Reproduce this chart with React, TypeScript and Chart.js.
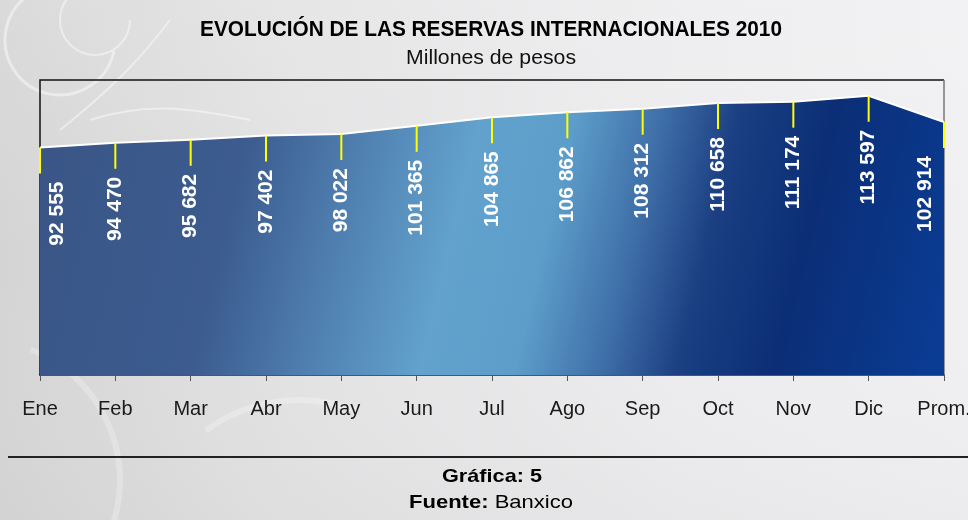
import { useEffect, useRef } from "react";
import { Chart, registerables } from "chart.js";

Chart.register(...registerables);

const categories = ["Ene", "Feb", "Mar", "Abr", "May", "Jun", "Jul", "Ago", "Sep", "Oct", "Nov", "Dic", "Prom."];
const reservas = [92555, 94470, 95682, 97402, 98022, 101365, 104865, 106862, 108312, 110658, 111174, 113597, 102914];
const valueLabels = ["92 555", "94 470", "95 682", "97 402", "98 022", "101 365", "104 865", "106 862", "108 312", "110 658", "111 174", "113 597", "102 914"];
const yMin = 0;
const yMax = 120000;
const titleText = "EVOLUCIÓN DE LAS RESERVAS INTERNACIONALES 2010";
const subtitleText = "Millones de pesos";
const footerGraphLabel = "Gráfica: 5";
const footerSourceLabel = "Fuente:";
const footerSourceValue = " Banxico";

const FONT = "'Liberation Sans', Arial, sans-serif";

function fitText(ctx: CanvasRenderingContext2D, text: string, cx: number, y: number, width: number) {
  const w = ctx.measureText(text).width;
  const s = width / w;
  ctx.save();
  ctx.translate(cx, y);
  ctx.scale(s, 1);
  ctx.textAlign = "center";
  ctx.fillText(text, 0, 0);
  ctx.restore();
}

const decorPlugin = {
  id: "decor",
  beforeDraw(chart: any) {
    const { ctx, width, height } = chart;
    ctx.save();
    const g = ctx.createLinearGradient(0, 0, width, 0);
    g.addColorStop(0, "#d4d4d4");
    g.addColorStop(0.3, "#e2e2e3");
    g.addColorStop(0.7, "#ececee");
    g.addColorStop(1, "#f0f0f2");
    ctx.fillStyle = g;
    ctx.fillRect(0, 0, width, height);
    const g2 = ctx.createLinearGradient(0, 0, 0, height);
    g2.addColorStop(0, "rgba(255,255,255,0.15)");
    g2.addColorStop(0.5, "rgba(255,255,255,0)");
    g2.addColorStop(1, "rgba(200,200,200,0.12)");
    ctx.fillStyle = g2;
    ctx.fillRect(0, 0, width, height);
    // decorative swirls
    ctx.strokeStyle = "rgba(255,255,255,0.45)";
    ctx.lineWidth = 3;
    ctx.beginPath();
    ctx.arc(60, 40, 55, 0.2, Math.PI * 1.3);
    ctx.stroke();
    ctx.lineWidth = 2;
    ctx.beginPath();
    ctx.arc(95, 20, 35, 0, Math.PI * 1.5);
    ctx.stroke();
    ctx.beginPath();
    ctx.moveTo(60, 130);
    ctx.bezierCurveTo(110, 90, 140, 60, 170, 20);
    ctx.stroke();
    ctx.beginPath();
    ctx.moveTo(90, 120);
    ctx.bezierCurveTo(150, 100, 200, 110, 250, 120);
    ctx.stroke();
    ctx.strokeStyle = "rgba(255,255,255,0.25)";
    ctx.lineWidth = 6;
    ctx.beginPath();
    ctx.arc(-20, 480, 140, -1.2, 0.3);
    ctx.stroke();
    ctx.beginPath();
    ctx.arc(300, 560, 160, -2.2, -1.2);
    ctx.stroke();
    ctx.restore();
  },
  beforeDatasetsDraw(chart: any) {
    const { ctx, chartArea: a } = chart;
    ctx.save();
    ctx.lineWidth = 1.5;
    ctx.strokeStyle = "#111";
    ctx.beginPath();
    ctx.moveTo(a.left, a.bottom);
    ctx.lineTo(a.left, a.top);
    ctx.lineTo(a.right, a.top);
    ctx.stroke();
    ctx.strokeStyle = "#777";
    ctx.beginPath();
    ctx.moveTo(a.right, a.top);
    ctx.lineTo(a.right, a.bottom);
    ctx.stroke();
    ctx.restore();
  },
  afterDatasetsDraw(chart: any) {
    const { ctx, chartArea: a } = chart;
    const meta = chart.getDatasetMeta(0);
    ctx.save();
    meta.data.forEach((pt: any, i: number) => {
      const x = pt.x;
      const y = pt.y;
      ctx.strokeStyle = "#ffff00";
      ctx.lineWidth = 2;
      ctx.beginPath();
      ctx.moveTo(x, y);
      ctx.lineTo(x, y + 26);
      ctx.stroke();
      const lx = Math.min(Math.max(x, a.left + 17), a.right - 19);
      ctx.save();
      ctx.translate(lx, y + 34);
      ctx.rotate(-Math.PI / 2);
      ctx.fillStyle = "#ffffff";
      ctx.font = `bold 21px ${FONT}`;
      ctx.textAlign = "right";
      ctx.textBaseline = "middle";
      ctx.fillText(valueLabels[i], 0, 0);
      ctx.restore();
    });
    ctx.restore();
  },
  afterDraw(chart: any) {
    const { ctx, width } = chart;
    ctx.save();
    ctx.fillStyle = "#000";
    ctx.textBaseline = "alphabetic";
    ctx.font = `bold 22px ${FONT}`;
    fitText(ctx, titleText, 491, 36, 582);
    ctx.fillStyle = "#111";
    ctx.font = `20px ${FONT}`;
    fitText(ctx, subtitleText, 491, 64, 170);
    // footer line
    ctx.strokeStyle = "#222";
    ctx.lineWidth = 2;
    ctx.beginPath();
    ctx.moveTo(8, 457);
    ctx.lineTo(width, 457);
    ctx.stroke();
    ctx.fillStyle = "#000";
    ctx.font = `bold 19px ${FONT}`;
    fitText(ctx, footerGraphLabel, 492, 482, 100);
    ctx.font = `bold 19px ${FONT}`;
    const w1 = ctx.measureText(footerSourceLabel).width;
    ctx.font = `19px ${FONT}`;
    const w2 = ctx.measureText(footerSourceValue).width;
    const total = w1 + w2;
    const s = 164 / total;
    ctx.save();
    ctx.translate(409, 508);
    ctx.scale(s, 1);
    ctx.textAlign = "left";
    ctx.font = `bold 19px ${FONT}`;
    ctx.fillText(footerSourceLabel, 0, 0);
    ctx.font = `19px ${FONT}`;
    ctx.fillText(footerSourceValue, w1, 0);
    ctx.restore();
    ctx.restore();
  },
};

export default function App() {
  const ref = useRef<HTMLCanvasElement | null>(null);
  useEffect(() => {
    document.body.style.margin = "0";
    const canvas = ref.current;
    if (!canvas) return;
    const chart = new Chart(canvas, {
      type: "line",
      data: {
        labels: categories,
        datasets: [
          {
            data: reservas,
            borderColor: "#ffffff",
            borderWidth: 2,
            pointRadius: 0,
            tension: 0,
            fill: "origin",
            backgroundColor: (c: any) => {
              const a = c.chart.chartArea;
              if (!a) return "#3b5a8c";
              const g = c.chart.ctx.createLinearGradient(a.left, a.top + 40, a.right, a.bottom - 40);
              g.addColorStop(0, "#3a5687");
              g.addColorStop(0.22, "#3c5b8e");
              g.addColorStop(0.34, "#4f7fb0");
              g.addColorStop(0.46, "#62a2cd");
              g.addColorStop(0.56, "#5c9dca");
              g.addColorStop(0.65, "#3f6fa8");
              g.addColorStop(0.73, "#1b3f82");
              g.addColorStop(0.83, "#0b2e76");
              g.addColorStop(1, "#0a3c94");
              return g;
            },
          },
        ],
      },
      options: {
        responsive: false,
        animation: false,
        layout: { padding: { left: 40, right: 24, top: 80, bottom: 83 } },
        plugins: {
          legend: { display: false },
          tooltip: { enabled: false },
          title: { display: false },
        },
        scales: {
          x: {
            type: "category",
            offset: false,
            afterFit: (scale: any) => {
              scale.paddingLeft = 0;
              scale.paddingRight = 0;
            },
            grid: { display: true, drawOnChartArea: false, drawTicks: true, tickLength: 6, color: "#555" },
            border: { display: true, color: "#555", width: 2 },
            ticks: {
              color: "#1a1a1a",
              font: { size: 20, family: FONT },
              padding: 16,
              maxRotation: 0,
              autoSkip: false,
            },
          },
          y: {
            display: false,
            min: yMin,
            max: yMax,
          },
        },
      },
      plugins: [decorPlugin],
    });
    return () => chart.destroy();
  }, []);
  return (
    <div style={{ width: 968, height: 520 }}>
      <canvas ref={ref} width={968} height={520} style={{ display: "block", width: 968, height: 520 }} />
    </div>
  );
}
